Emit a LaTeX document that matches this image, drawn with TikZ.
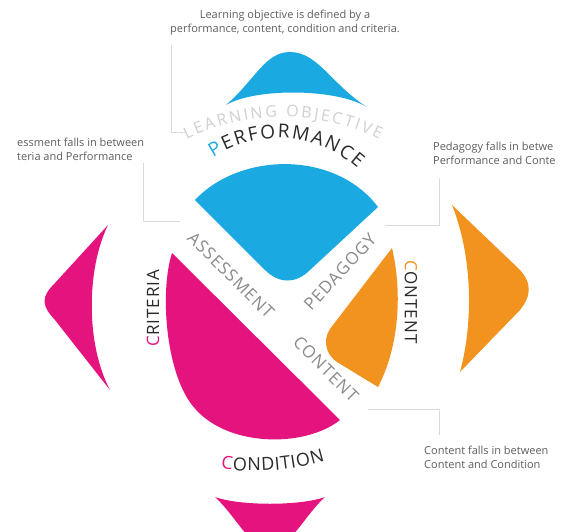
\documentclass[tikz,border=0pt]{standalone}
\usepackage{fontspec}
\setmainfont{Open Sans}
\usetikzlibrary{decorations.text}
\definecolor{pblue}{HTML}{1BA9E1}
\definecolor{pmag}{HTML}{E4137E}
\definecolor{porange}{HTML}{F3931F}
\definecolor{ink}{HTML}{2A2A2A}
\definecolor{midgray}{HTML}{8A8A8A}
\definecolor{palegray}{HTML}{D0D0D0}
\definecolor{callgray}{HTML}{5E5E5E}
\definecolor{lineg}{HTML}{DADADA}
\newfontfamily\labfam[LetterSpace=6]{Open Sans}
\newcommand\labf{\labfam\fontsize{17}{17}\selectfont}
\begin{document}
\begin{tikzpicture}[x=1pt,y=1pt,
  callout/.style={draw=lineg, line width=0.9pt},
  calltext/.style={font=\fontsize{11}{14}\selectfont, text=callgray, align=left, inner sep=0pt},
  diaglabel/.style={font=\labf, text=midgray, inner sep=0pt},
  sidelabel/.style={font=\labf, text=ink, inner sep=0pt},
  arctext/.style={decorate, decoration={text along path, text align={fit to path}, text={#1}}}]
\useasboundingbox (0,0) rectangle (563,-531);
\fill[white] (0,0) rectangle (563,-531);
\clip (0,0) rectangle (563,-531);

% outer petals
\fill[pblue] (226,-105) .. controls (255,-80) and (265,-52) .. (290,-52) .. controls (318,-52) and (332,-85) .. (367,-107) .. controls (335,-88) and (255,-88) .. cycle;
\fill[pmag] (108,-225) -- (55,-283) .. controls (41,-297) and (41,-305) .. (55,-320) -- (110,-390) .. controls (86,-345) and (86,-270) .. cycle;
\fill[porange] (452,-205) -- (518,-268) .. controls (532,-282) and (532,-295) .. (520,-310) -- (460,-372) .. controls (474,-320) and (472,-255) .. cycle;
\fill[pmag] (215,-497) .. controls (235,-515) and (250,-548) .. (270,-550) .. controls (290,-548) and (305,-515) .. (325,-497) .. controls (300,-506) and (240,-506) .. cycle;

% inner shapes
\fill[pblue] (195,-200) .. controls (240,-152) and (335,-150) .. (378,-207) -- (310,-270) .. controls (296,-284) and (279,-284) .. (265,-270) -- cycle;
\fill[pmag] (172,-253) -- (340,-420) .. controls (305,-448) and (225,-448) .. (192,-405) .. controls (165,-370) and (160,-290) .. cycle;
\fill[porange] (392,-248) .. controls (402,-290) and (400,-345) .. (378,-387) -- (337,-362) .. controls (323,-352) and (323,-336) .. (333,-325) -- cycle;

% curved labels
{\fontsize{16}{16}\selectfont
\path[arctext={|\color{palegray}|LEARNING OBJECTIVE}] ([shift={(283,-337)}]116:220) arc[start angle=116, end angle=64, radius=220];
}
{\fontsize{19}{19}\selectfont
\path[arctext={|\color{pblue}|P|\color{ink}|ERFORMANCE}] ([shift={(278,-257)}]123:119) arc[start angle=123, end angle=48, radius=119];
}
{\fontsize{18}{18}\selectfont
\path[arctext={|\color{pmag}|C|\color{ink}|ONDITION}] ([shift={(255,-225)}]262:246) arc[start angle=262, end angle=286.5, radius=246];
}

% straight labels
\node[sidelabel, rotate=90] (criteria) at (153,-308) {\textcolor{pmag}{C}RITERIA};
\node[sidelabel, rotate=-90] (contentside) at (411,-302) {\textcolor{porange}{C}ONTENT};
\node[diaglabel, rotate=-45] (assess) at (231,-275) {ASSESSMENT};
\node[diaglabel, rotate=47] (pedag) at (340,-272) {PEDAGOGY};
\node[diaglabel, rotate=-45] (contentdiag) at (326,-369) {CONTENT};

% callout texts
\node[calltext, align=center, anchor=north] (toptext) at (285,-10) {Learning objective is defined by a\\performance, content, condition and criteria.};
\node[calltext, anchor=north west] (lefttext) at (17,-138) {essment falls in between\\teria and Performance};
\node[calltext, anchor=north west] (righttext) at (433,-142) {Pedagogy falls in betwe\\Performance and Conte};
\node[calltext, anchor=north west] (bottext) at (424,-446) {Content falls in between\\Content and Condition};

% callout connectors
\coordinate (ta) at (171,-45); \coordinate (tb) at (171,-132); \coordinate (tc) at (186,-132);
\coordinate (la) at (143,-163); \coordinate (lb) at (143,-221); \coordinate (lc) at (180,-221);
\coordinate (ra) at (439,-178); \coordinate (rb) at (439,-225); \coordinate (rc) at (385,-225);
\coordinate (ba) at (368,-409); \coordinate (bb) at (439,-409); \coordinate (bc) at (439,-435);
\draw[callout] (ta) -- (tb) -- (tc);
\draw[callout] (la) -- (lb) -- (lc);
\draw[callout] (ra) -- (rb) -- (rc);
\draw[callout] (ba) -- (bb) -- (bc);
\end{tikzpicture}
\end{document}
